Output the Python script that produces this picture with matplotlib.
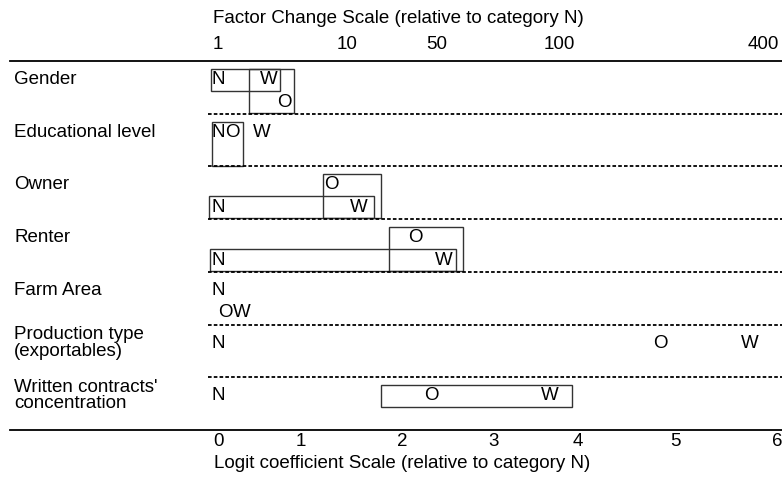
import matplotlib
matplotlib.use("Agg")
import matplotlib.pyplot as plt
from matplotlib.patches import Rectangle

plt.rcParams["font.family"] = ["Liberation Sans", "DejaVu Sans"]

# rows of the plot, top to bottom
categories = [
    "Gender",
    "Educational level",
    "Owner",
    "Renter",
    "Farm Area",
    "Production type\n(exportables)",
    "Written contracts'\nconcentration",
]

# logit coefficients relative to category N
coef_N = [0, 0, 0, 0, 0, 0, 0]
coef_O = [0.71, 0.15, 1.22, 2.12, 0.08, 4.74, 2.29]
coef_W = [0.54, 0.47, 1.51, 2.42, 0.25, 5.70, 3.56]

# text line (1 or 2) used for each letter inside its row
line_N = [1, 1, 2, 2, 1, 1, 1]
line_O = [2, 1, 1, 1, 2, 1, 1]
line_W = [1, 1, 2, 2, 2, 1, 1]

# boxes joining non-significant contrasts: row, from, to, first line, last line
boxes = [
    (0, -0.075, 0.66, 1, 1),
    (0, 0.33, 0.81, 1, 2),
    (1, -0.064, 0.27, 1, 2),
    (2, 1.125, 1.75, 1, 2),
    (2, -0.096, 1.67, 2, 2),
    (3, 1.83, 2.63, 1, 2),
    (3, -0.086, 2.55, 2, 2),
    (6, 1.75, 3.79, 1, 1),
]

top_labels = ["1", "10", "50", "100", "400"]
top_pos = [0, 1.38, 2.34, 3.66, 5.84]
bottom_labels = ["0", "1", "2", "3", "4", "5", "6"]
bottom_pos = [0, 0.89, 1.97, 2.95, 3.86, 4.90, 5.99]

# layout (pixels of the 782x494 figure)
W_PX, H_PX = 782, 494
X0_PX, UNIT_PX = 218, 93.3      # x=0 and one logit unit
Y0_PX, ROW_PX = 61, 52.7        # first rule and row height
FS = 13.5


def px_x(p):
    return (p - X0_PX) / UNIT_PX


def px_y(p):
    return (p - Y0_PX) / ROW_PX


line_off = {1: 18.5 / ROW_PX, 2: 41 / ROW_PX}
box_top = {1: 8 / ROW_PX, 2: 30 / ROW_PX}
box_bot = {1: 30 / ROW_PX, 2: 52 / ROW_PX}

fig = plt.figure(figsize=(W_PX / 100, H_PX / 100), dpi=100)
ax = fig.add_axes([0, 0, 1, 1])
ax.set_xlim(px_x(0), px_x(W_PX))
ax.set_ylim(px_y(H_PX), px_y(0))
ax.axis("off")

n = len(categories)

# solid rules at top and bottom, dotted ones between rows
ax.plot([px_x(10), px_x(W_PX)], [0, 0], color="black", lw=1.3)
ax.plot([px_x(10), px_x(W_PX)], [n, n], color="black", lw=1.3)
for i in range(1, n):
    ax.plot([px_x(208), px_x(W_PX)], [i, i], color="black", lw=1.3,
            linestyle=(0, (2, 1.2)))

for i, cat in enumerate(categories):
    ax.text(px_x(14), i + line_off[1], cat, ha="left", va="center",
            fontsize=FS, linespacing=0.95)
    for letter, coef, line in (("N", coef_N, line_N),
                               ("O", coef_O, line_O),
                               ("W", coef_W, line_W)):
        ax.text(coef[i], i + line_off[line[i]], letter, ha="center",
                va="center", fontsize=FS)

for row, x0, x1, l0, l1 in boxes:
    y0 = row + box_top[l0]
    y1 = row + box_bot[l1]
    ax.add_patch(Rectangle((x0, y0), x1 - x0, y1 - y0, fill=False,
                           edgecolor="#333333", lw=1.0))

# top factor-change scale
ax.text(px_x(213), px_y(18), "Factor Change Scale (relative to category N)",
        ha="left", va="center", fontsize=FS)
for lab, p in zip(top_labels, top_pos):
    ax.text(p, px_y(44), lab, ha="center", va="center", fontsize=FS)

# bottom logit scale
for lab, p in zip(bottom_labels, bottom_pos):
    ax.text(p, px_y(442), lab, ha="center", va="center", fontsize=FS)
ax.text(px_x(214), px_y(464), "Logit coefficient Scale (relative to category N)",
        ha="left", va="center", fontsize=FS)

fig.savefig("out.png", dpi=100)
